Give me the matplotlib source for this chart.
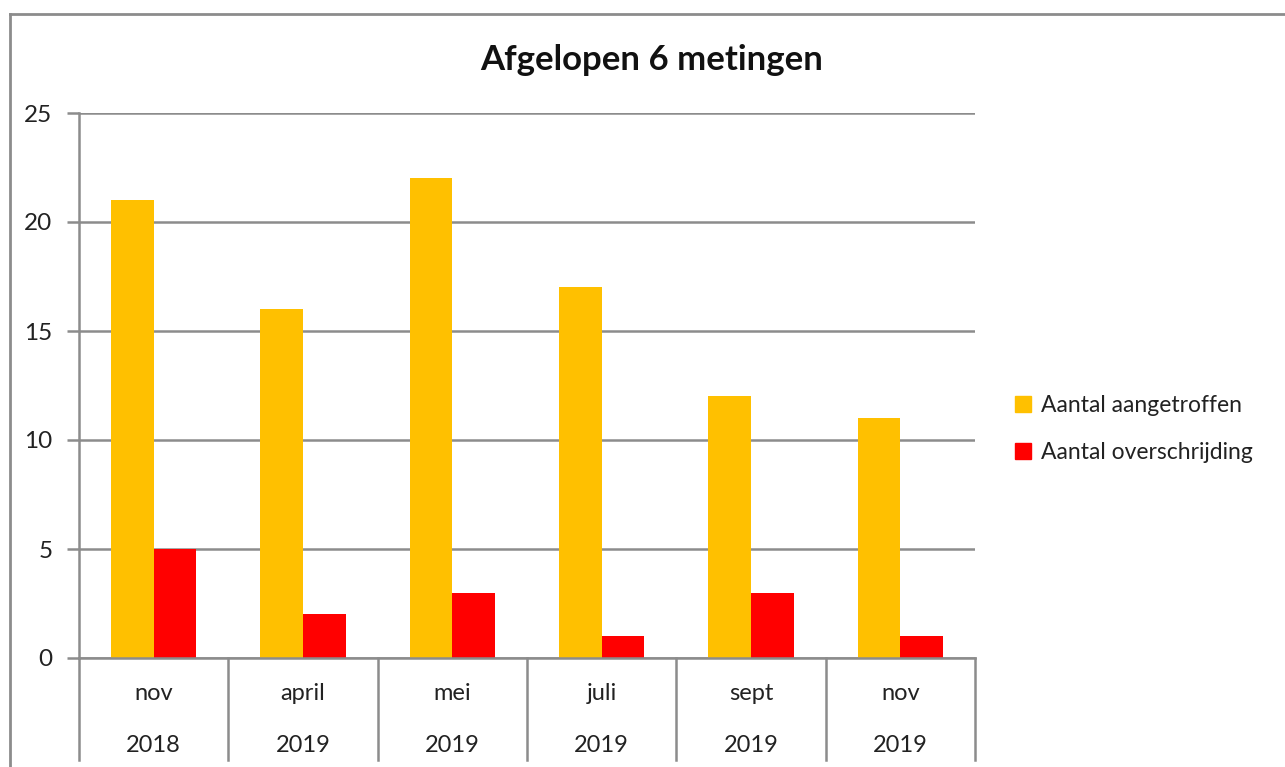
import matplotlib.pyplot as plt
import numpy as np
from matplotlib.patches import Patch

plt.rcParams['font.family'] = ['Lato', 'DejaVu Sans']

months = ['nov', 'april', 'mei', 'juli', 'sept', 'nov']
years = ['2018', '2019', '2019', '2019', '2019', '2019']
aangetroffen = [21, 16, 22, 17, 12, 11]
overschrijding = [5, 2, 3, 1, 3, 1]

yellow = '#FFC000'
red = '#FF0000'
grey = '#8C8C8C'
W, H = 1285, 767

fig = plt.figure(figsize=(W / 100, H / 100), dpi=100)
# outer chart border (only top and left visible in the crop)
fig.add_artist(plt.Line2D([10 / W, 10 / W], [0, 1 - 14 / H], color=grey, lw=2))
fig.add_artist(plt.Line2D([10 / W, 1], [1 - 14 / H, 1 - 14 / H], color=grey, lw=2))

ax = fig.add_axes([79 / W, (H - 658) / H, 896 / W, 545 / H])
x = np.arange(len(months))
bw = 0.285
ax.bar(x - bw / 2, aangetroffen, bw, color=yellow, label='Aantal aangetroffen')
ax.bar(x + bw / 2, overschrijding, bw, color=red, label='Aantal overschrijding')

ax.set_xlim(-0.5, len(months) - 0.5)
ax.set_ylim(0, 25)
ax.set_yticks(range(0, 26, 5))
ax.yaxis.grid(True, color=grey, lw=1.8)
ax.set_axisbelow(True)
for s in ['top', 'right']:
    ax.spines[s].set_visible(False)
ax.spines['left'].set_color(grey)
ax.spines['left'].set_linewidth(1.8)
ax.spines['bottom'].set_color(grey)
ax.spines['bottom'].set_linewidth(1.8)
ax.tick_params(axis='y', length=9, width=1.8, color=grey, labelsize=17.5, pad=10, labelcolor='#222222')
ax.set_xticks([])

# category separators below the axis, two-level labels
trans = ax.get_xaxis_transform()
low = -(760 - 658) / 545
for b in np.arange(-0.5, len(months), 1.0):
    ax.plot([b, b], [0, low], color=grey, lw=1.8, transform=trans, clip_on=False)
for i in x:
    ax.text(i, -(693 - 658) / 545, months[i], transform=trans, ha='center', va='center',
            fontsize=17, color='#222222')
    ax.text(i, -(745 - 658) / 545, years[i], transform=trans, ha='center', va='center',
            fontsize=17, color='#222222')

fig.text(652 / W, 1 - 60 / H, 'Afgelopen 6 metingen', ha='center', va='center',
         fontsize=25, fontweight='bold', color='#111111')

handles = [Patch(color=yellow), Patch(color=red)]
fig.legend(handles, ['Aantal aangetroffen', 'Aantal overschrijding'],
           loc='center left', bbox_to_anchor=(1015 / W, 1 - 429 / H), frameon=False,
           fontsize=16.5, handlelength=0.7, handleheight=0.7, handletextpad=0.45,
           labelspacing=1.15, borderpad=0, borderaxespad=0, labelcolor='#222222')

fig.savefig('out.png', dpi=100)
